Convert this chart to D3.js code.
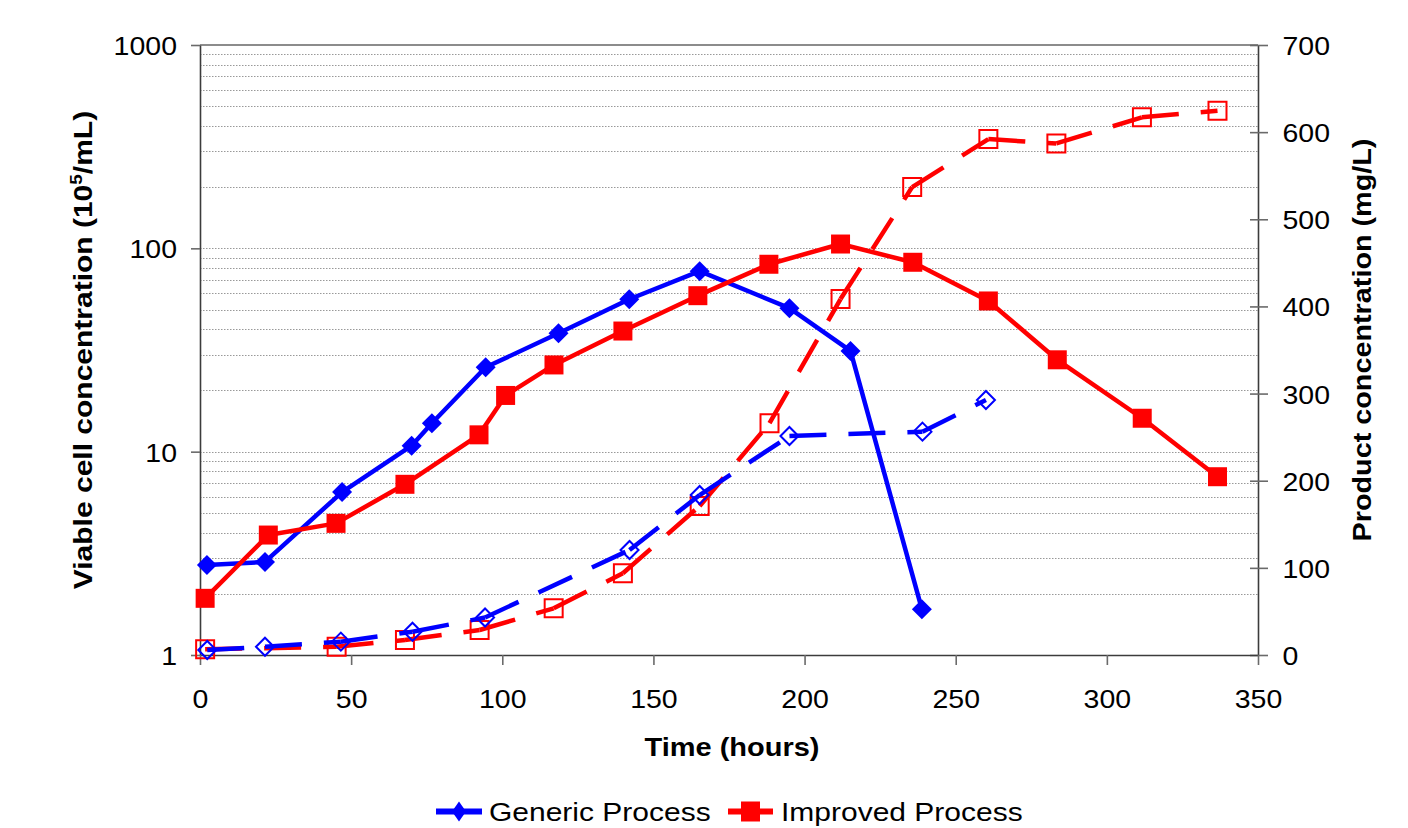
<!DOCTYPE html>
<html>
<head>
<meta charset="utf-8">
<script src="https://cdn.jsdelivr.net/npm/d3@7"></script>
<style>
  html, body { margin: 0; padding: 0; background: #fff; }
  svg { display: block; }
  text { font-family: "Liberation Sans", Arial, sans-serif; fill: #000; }
</style>
</head>
<body>
<svg id="chart" width="1408" height="828"></svg>
<script>
// Viable cell density (10^5/mL), left log axis
const genericCellTime = [2.3, 21.5, 47, 70, 76.7, 94.5, 118.6, 142, 165.3, 195, 215.2, 238.8];
const genericCell     = [2.77, 2.87, 6.33, 10.7, 13.8, 26.0, 38.2, 56.2, 77.2, 50.8, 31.3, 1.68];

const improvedCellTime = [1.7, 22.6, 45, 67.8, 92.3, 101.1, 117.1, 139.9, 164.7, 188.2, 211.9, 235.8, 260.8, 283.6, 311.7, 336.6];
const improvedCell     = [1.90, 3.89, 4.44, 6.91, 12.1, 18.9, 26.7, 39.2, 58.5, 83.5, 105, 85.4, 55.1, 28.3, 14.6, 7.53];

// Product titre (mg/L), right linear axis
const genericProductTime = [2.4, 21.5, 46.6, 70.3, 94.3, 142.1, 165.3, 195, 239, 260];
const genericProduct     = [5.7, 9.5, 15.3, 26.7, 43, 120.5, 183.6, 251.3, 256.3, 292.6];

const improvedProductTime = [1.7, 45.2, 67.8, 92.5, 117, 139.9, 165.3, 188.4, 211.9, 235.6, 260.8, 283.3, 311.6, 336.6];
const improvedProduct     = [6.5, 9.5, 17.2, 28.7, 53.6, 93.8, 171, 266, 408.5, 537, 592, 587, 617, 624.6];

// Axis ticks
const timeTicks = [0, 50, 100, 150, 200, 250, 300, 350];
const cellTicks = [1, 10, 100, 1000];
const productTicks = [0, 100, 200, 300, 400, 500, 600, 700];

const seriesNames = ["Generic Process", "Improved Process"];
const BLUE = "#0000ff", RED = "#ff0000", AXIS = "#3c3c3c";

const svg = d3.select("#chart");
const plotLeft = 200, plotRight = 1258, plotTop = 45, plotBottom = 655;

const x  = d3.scaleLinear().domain([0, 350]).range([plotLeft, plotRight]);
const yL = d3.scaleLog().domain([1, 1000]).range([plotBottom, plotTop]);
const yR = d3.scaleLinear().domain([0, 700]).range([plotBottom, plotTop]);

// squared diamond symbol
const diamond = {
  draw(ctx, size) {
    const r = Math.sqrt(size / 2);
    ctx.moveTo(0, -r); ctx.lineTo(r, 0); ctx.lineTo(0, r); ctx.lineTo(-r, 0); ctx.closePath();
  }
};

// text helper: glyphs slightly flattened relative to their advance
function label(g, px, py, str, o) {
  const grp = g.append("g")
    .attr("transform", `translate(${px},${py}) rotate(${o.rotate || 0}) scale(1,${o.sy || 1})`);
  const t = grp.append("text")
    .attr("text-anchor", o.anchor || "start")
    .style("font-size", o.size + "px")
    .style("font-weight", o.weight || "normal");
  if (str != null) t.text(str);
  return t;
}

// gridlines (log minor + major)
const gridVals = [];
[1, 10, 100].forEach(d => { for (let k = 2; k <= 10; k++) gridVals.push(k * d); });
svg.append("g").selectAll("line")
  .data(gridVals.filter(v => v < 1000))
  .join("line")
  .attr("x1", plotLeft).attr("x2", plotRight)
  .attr("y1", d => Math.round(yL(d)) + 0.5).attr("y2", d => Math.round(yL(d)) + 0.5)
  .attr("stroke", "#999").attr("stroke-width", 1)
  .attr("stroke-dasharray", "1.5,1.5");

// top border
svg.append("line")
  .attr("x1", plotLeft).attr("x2", plotRight)
  .attr("y1", yL(1000)).attr("y2", yL(1000))
  .attr("stroke", "#8c8c8c").attr("stroke-width", 2);

const tickFs = 28.5, tickSy = 0.93;
const capHalf = 0.716 * tickFs * tickSy / 2;

// left axis
const gL = svg.append("g").attr("transform", `translate(${plotLeft},0)`)
  .call(d3.axisLeft(yL).tickValues(cellTicks).tickFormat(d3.format("d")).tickSize(9).tickSizeOuter(0));
// right axis
const gR = svg.append("g").attr("transform", `translate(${plotRight},0)`)
  .call(d3.axisRight(yR).tickValues(productTicks).tickFormat(d3.format("d")).tickSize(10).tickSizeOuter(0));
// bottom axis
const gB = svg.append("g").attr("transform", `translate(0,${plotBottom})`)
  .call(d3.axisBottom(x).tickValues(timeTicks).tickFormat(d3.format("d")).tickSize(10).tickSizeOuter(0));

[gL, gR, gB].forEach(g => {
  g.select(".domain").attr("stroke", AXIS).attr("stroke-width", 1.6);
  g.selectAll(".tick line").attr("stroke", "#6a6a6a").attr("stroke-width", 1.6);
  g.selectAll(".tick text")
    .attr("fill", "#000")
    .style("font-family", '"Liberation Sans", Arial, sans-serif')
    .style("font-size", tickFs + "px")
    .attr("x", null).attr("y", null).attr("dy", null);
});
gL.selectAll(".tick text").attr("text-anchor", "end")
  .attr("transform", `translate(-23,${capHalf}) scale(1,${tickSy})`);
gR.selectAll(".tick line").attr("x1", -8).attr("x2", 10);
gR.selectAll(".tick text").attr("text-anchor", "start")
  .attr("transform", `translate(24.5,${capHalf}) scale(1,${tickSy})`);
gB.selectAll(".tick text").attr("text-anchor", "middle")
  .attr("transform", `translate(0,53) scale(1,${tickSy})`);

// axis titles
label(svg, 732, 756, "Time (hours)", { size: 29, weight: "bold", anchor: "middle", sy: 0.88 });

const lt = label(svg, 92, 350, null, { size: 30, weight: "bold", anchor: "middle", rotate: -90, sy: 0.88 });
lt.append("tspan").text("Viable cell concentration (10");
lt.append("tspan").text("5").style("font-size", "19px").attr("dy", -11);
lt.append("tspan").text("/mL)").attr("dy", 11);

label(svg, 1371, 340, "Product concentration (mg/L)", { size: 28.8, weight: "bold", anchor: "middle", rotate: -90, sy: 0.9 });

// series
const toPts = (ts, vs) => ts.map((t, i) => [t, vs[i]]);
const lineL = d3.line().x(d => x(d[0])).y(d => yL(d[1]));
const lineR = d3.line().x(d => x(d[0])).y(d => yR(d[1]));

function solidSeries(pts, color, symType, symSize) {
  svg.append("path").datum(pts).attr("d", lineL)
    .attr("fill", "none").attr("stroke", color).attr("stroke-width", 4.5)
    .attr("stroke-linejoin", "round");
  svg.append("g").selectAll("path").data(pts).join("path")
    .attr("transform", d => `translate(${x(d[0])},${yL(d[1])})`)
    .attr("d", d3.symbol().type(symType).size(symSize))
    .attr("fill", color);
}

function dashedSeries(pts, color, symType, symSize) {
  // dash pattern restarts on every segment
  svg.append("g").selectAll("path").data(d3.pairs(pts)).join("path")
    .attr("d", lineR)
    .attr("fill", "none").attr("stroke", color).attr("stroke-width", 4.5)
    .attr("stroke-dasharray", "37,22");
  svg.append("g").selectAll("path").data(pts).join("path")
    .attr("transform", d => `translate(${x(d[0])},${yR(d[1])})`)
    .attr("d", d3.symbol().type(symType).size(symSize))
    .attr("fill", "none").attr("stroke", color).attr("stroke-width", 2);
}

solidSeries(toPts(genericCellTime, genericCell), BLUE, diamond, 200);
solidSeries(toPts(improvedCellTime, improvedCell), RED, d3.symbolSquare, 361);
dashedSeries(toPts(improvedProductTime, improvedProduct), RED, d3.symbolSquare, 324);
dashedSeries(toPts(genericProductTime, genericProduct), BLUE, diamond, 162);

// legend
const lg = svg.append("g");
const legY = 811.5;
lg.append("line").attr("x1", 436).attr("x2", 482).attr("y1", legY).attr("y2", legY)
  .attr("stroke", BLUE).attr("stroke-width", 6);
lg.append("path").attr("d", "M0,-10L7,0L0,10L-7,0Z")
  .attr("transform", `translate(459,${legY})`).attr("fill", BLUE);
label(lg, 489, 821, seriesNames[0], { size: 30, sy: 0.88 });

lg.append("line").attr("x1", 728).attr("x2", 773).attr("y1", legY).attr("y2", legY)
  .attr("stroke", RED).attr("stroke-width", 6);
lg.append("rect").attr("x", 741).attr("y", legY - 10).attr("width", 19).attr("height", 20)
  .attr("fill", RED);
label(lg, 781, 821, seriesNames[1], { size: 30, sy: 0.88 });
</script>
</body>
</html>
